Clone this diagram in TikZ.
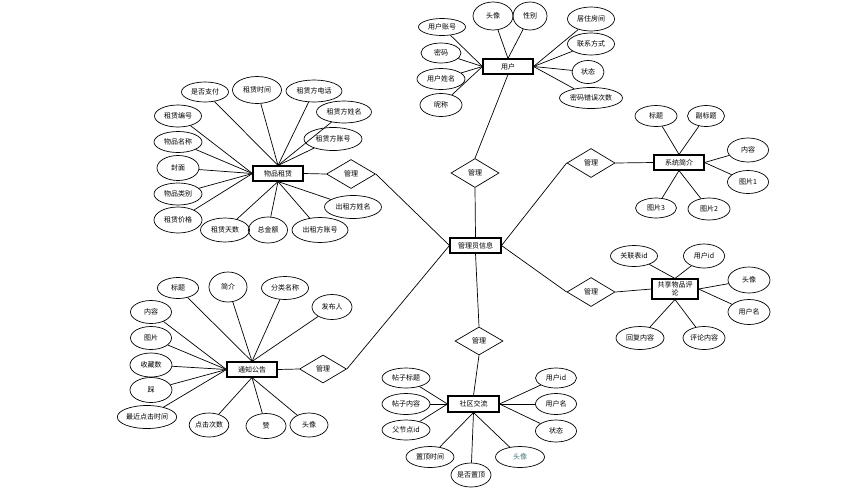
\documentclass[tikz,border=0pt]{standalone}
\usepackage{fontspec}
\setmainfont{Noto Sans CJK SC}
\usetikzlibrary{shapes.geometric}
\definecolor{tealtxt}{RGB}{70,120,120}
\begin{document}
\begin{tikzpicture}[x=1pt,y=-1pt,
  font=\fontsize{7}{8.5}\selectfont,
  attr/.style 2 args={ellipse, draw, line width=0.7pt, inner sep=0pt, minimum width=#1pt, minimum height=#2pt},
  ent/.style={rectangle, draw, line width=1.1pt, inner sep=0pt, minimum width=50pt, minimum height=15pt},
  rel/.style={diamond, draw, line width=0.7pt, inner sep=0pt, minimum width=48pt, minimum height=29pt},
  link/.style={line width=0.7pt}]
\useasboundingbox[fill=white] (0,0) rectangle (856,491);

% ---------- central ----------
\node[ent,minimum width=51pt] (adm) at (475.5,245.5) {管理员信息};

% ---------- 用户 ----------
\node[ent] (u) at (508,66.5) {用户};
\node[rel] (ru) at (475,173) {管理};
\node[attr={47}{17}] (u1) at (442,27) {用户账号};
\node[attr={40}{20}] (u2) at (441,53) {密码};
\node[attr={48}{21}] (u3) at (441,79) {用户姓名};
\node[attr={42}{23}] (u4) at (441,105) {昵称};
\node[attr={40}{28}] (u5) at (493,16) {头像};
\node[attr={34}{28}] (u6) at (530,16) {性别};
\node[attr={47}{24}] (u7) at (591,19) {居住房间};
\node[attr={47}{22}] (u8) at (591,44) {联系方式};
\node[attr={32}{23}] (u9) at (588,72) {状态};
\node[attr={63}{21}] (u10) at (591,98) {密码错误次数};
\foreach \a in {u1,u2,u3,u4} \draw[link] (\a) -- (u.west);
\foreach \a in {u5,u6} \draw[link] (\a) -- (u.north);
\foreach \a in {u7,u8,u9,u10} \draw[link] (\a) -- (u.east);
\draw[link] (u.south) -- (ru.north);
\draw[link] (ru.south) -- (adm.north);

% ---------- 物品租赁 ----------
\node[ent] (r) at (278,173.5) {物品租赁};
\node[rel,minimum width=49pt] (rr) at (351,174) {管理};
\node[attr={47}{20}] (r1) at (205,92) {是否支付};
\node[attr={49}{27}] (r2) at (257,90) {租赁时间};
\node[attr={56}{22}] (r3) at (314,91) {租赁方电话};
\node[attr={55}{22}] (r4) at (344,112) {租赁方姓名};
\node[attr={58}{23}] (r5) at (333,139) {租赁方账号};
\node[attr={47}{22}] (r6) at (178,116) {租赁编号};
\node[attr={48}{21}] (r7) at (178,142) {物品名称};
\node[attr={42}{25}] (r8) at (178,168) {封面};
\node[attr={48}{22}] (r9) at (178,194) {物品类别};
\node[attr={48}{26}] (r10) at (178,220) {租赁价格};
\node[attr={49}{24}] (r11) at (225,230) {租赁天数};
\node[attr={39}{26}] (r12) at (268,230) {总金额};
\node[attr={56}{25}] (r13) at (320,230) {出租方账号};
\node[attr={57}{23}] (r14) at (353,207) {出租方姓名};
\foreach \a in {r1,r2,r3,r4,r5} \draw[link] (\a) -- (r.north);
\foreach \a in {r6,r7,r8,r9,r10} \draw[link] (\a) -- (r.west);
\foreach \a in {r11,r12,r13,r14} \draw[link] (\a) -- (r.south);
\draw[link] (r.east) -- (rr.west);
\draw[link] (rr.east) -- (adm.west);

% ---------- 系统简介 ----------
\node[ent] (s) at (679,162.5) {系统简介};
\node[rel] (rs) at (591,163) {管理};
\node[attr={42}{21}] (s1) at (656,116) {标题};
\node[attr={37}{21}] (s2) at (706,116) {副标题};
\node[attr={41}{24}] (s3) at (748,150) {内容};
\node[attr={41}{23}] (s4) at (748,182) {图片1};
\node[attr={41}{20}] (s5) at (656,208) {图片3};
\node[attr={42}{22}] (s6) at (709,209) {图片2};
\foreach \a in {s1,s2} \draw[link] (\a) -- (s.north);
\foreach \a in {s3,s4} \draw[link] (\a) -- (s.east);
\foreach \a in {s5,s6} \draw[link] (\a) -- (s.south);
\draw[link] (s.west) -- (rs.east);
\draw[link] (rs.west) -- (adm.east);

% ---------- 共享物品评论 ----------
\node[ent,minimum width=46pt,minimum height=20pt,align=center,font=\fontsize{7}{8}\selectfont] (c) at (675,289) {共享物品评\\论};
\node[rel] (rc) at (591,292) {管理};
\node[attr={47}{21}] (c1) at (634,256) {关联表id};
\node[attr={41}{24}] (c2) at (704,256) {用户id};
\node[attr={42}{26}] (c3) at (749,280) {头像};
\node[attr={42}{25}] (c4) at (749,312) {用户名};
\node[attr={48}{23}] (c5) at (640,338) {回复内容};
\node[attr={42}{23}] (c6) at (704,338) {评论内容};
\foreach \a in {c1,c2} \draw[link] (\a) -- (c.north);
\foreach \a in {c3,c4} \draw[link] (\a) -- (c.east);
\foreach \a in {c5,c6} \draw[link] (\a) -- (c.south);
\draw[link] (c.west) -- (rc.east);
\draw[link] (rc.west) -- (adm.east);

% ---------- 通知公告 ----------
\node[ent] (n) at (252,369.5) {通知公告};
\node[rel,minimum width=47pt,minimum height=28pt] (rn) at (323,369) {管理};
\node[attr={41}{21}] (n1) at (178,288) {标题};
\node[attr={38}{30}] (n2) at (228,287) {简介};
\node[attr={47}{23}] (n3) at (285,288) {分类名称};
\node[attr={40}{25}] (n4) at (332,307) {发布人};
\node[attr={41}{23}] (n5) at (151,312) {内容};
\node[attr={41}{23}] (n6) at (151,338) {图片};
\node[attr={42}{24}] (n7) at (151,365) {收藏数};
\node[attr={42}{25}] (n8) at (151,390) {踩};
\node[attr={57}{23}] (n9) at (147,417) {最近点击时间};
\node[attr={39}{24}] (n10) at (209,425) {点击次数};
\node[attr={40}{25}] (n11) at (266,426) {赞};
\node[attr={38}{24}] (n12) at (309,425) {头像};
\foreach \a in {n1,n2,n3,n4} \draw[link] (\a) -- (n.north);
\foreach \a in {n5,n6,n7,n8,n9} \draw[link] (\a) -- (n.west);
\foreach \a in {n10,n11,n12} \draw[link] (\a) -- (n.south);
\draw[link] (n.east) -- (rn.west);
\draw[link] (rn.east) -- (adm.west);

% ---------- 社区交流 ----------
\node[ent,minimum width=51pt,minimum height=16pt] (t) at (473.5,404) {社区交流};
\node[rel,minimum height=28pt] (rt) at (479,341) {管理};
\node[attr={48}{20}] (t1) at (406,378) {帖子标题};
\node[attr={48}{21}] (t2) at (406,404) {帖子内容};
\node[attr={48}{20}] (t3) at (406,430) {父节点id};
\node[attr={41}{20}] (t4) at (556,378) {用户id};
\node[attr={41}{21}] (t5) at (556,404) {用户名};
\node[attr={41}{22}] (t6) at (556,431) {状态};
\node[attr={48}{21}] (t7) at (430,457) {置顶时间};
\node[attr={40}{24}] (t8) at (471,475) {是否置顶};
\node[attr={49}{21},text=tealtxt] (t9) at (520,457) {头像};
\foreach \a in {t1,t2,t3} \draw[link] (\a) -- (t.west);
\foreach \a in {t4,t5,t6} \draw[link] (\a) -- (t.east);
\foreach \a in {t7,t8,t9} \draw[link] (\a) -- (t.south);
\draw[link] (adm.south) -- (rt.north);
\draw[link] (rt.south) -- (t.north);
\end{tikzpicture}
\end{document}
